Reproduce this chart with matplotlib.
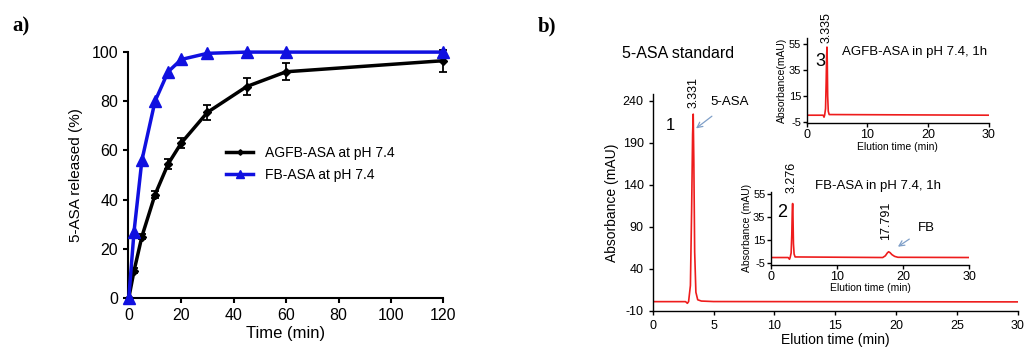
import numpy as np
import matplotlib
matplotlib.use('Agg')
import matplotlib.pyplot as plt

plt.rcParams['font.family'] = ['Liberation Sans', 'DejaVu Sans']
plt.rcParams['axes.unicode_minus'] = False

# a) release profile
time_min = [0, 2, 5, 10, 15, 20, 30, 45, 60, 120]
agfb_rel = [0, 11, 25, 42, 54.5, 63, 75.5, 86, 92, 96.5]
agfb_err = [0, 1, 1, 1.5, 2, 2, 3, 3.5, 3.5, 4.5]
fb_rel = [0, 27, 56, 80, 92, 97, 99.5, 100, 100, 100]

# b) HPLC traces (time min, absorbance mAU)
std_t = [0, 2.7, 2.85, 2.95, 3.1, 3.2, 3.28, 3.331, 3.38, 3.45, 3.55, 3.7, 4.0, 5, 30]
std_a = [0.8, 0.8, -1.2, 0.8, 20, 110, 200, 224, 170, 60, 12, 3, 1.5, 0.9, 0.5]
fb_t = [0, 2.6, 2.8, 2.9, 3.05, 3.15, 3.22, 3.276, 3.33, 3.4, 3.5, 3.65,
        16.9, 17.3, 17.6, 17.791, 18.0, 18.3, 18.7, 19.2, 30]
fb_a = [0, 0, -1.5, 0, 4, 20, 40, 47, 36, 12, 3, 0.5,
        0, 1.5, 4, 5, 4.3, 2.5, 1, 0.2, 0]
agfb_t = [0, 2.7, 2.85, 2.95, 3.1, 3.2, 3.28, 3.335, 3.39, 3.45, 3.55, 3.7, 30]
agfb_a = [0, 0, -1.5, 0, 5, 25, 46, 52.5, 40, 15, 3, 0.5, 0]

fig = plt.figure(figsize=(10.24, 3.52), dpi=100)

def style(ax, lw=1.0):
    for s in ['top', 'right']:
        ax.spines[s].set_visible(False)
    for s in ['left', 'bottom']:
        ax.spines[s].set_linewidth(lw)
    ax.tick_params(direction='out', width=lw)

# ---- panel a
ax = fig.add_axes([0.125, 0.1534, 0.308, 0.6986])
style(ax, 1.5)
ax.errorbar(time_min, agfb_rel, yerr=agfb_err, fmt='none', ecolor='black',
            capsize=3, elinewidth=1.3, capthick=1.3, clip_on=False, zorder=3)
ax.plot(time_min, agfb_rel, color='black', lw=2.5, marker='D', ms=4,
        clip_on=False, zorder=3, label='AGFB-ASA at pH 7.4')
ax.plot(time_min, fb_rel, color='#1010e0', lw=2.5, marker='^', ms=8,
        clip_on=False, zorder=4, label='FB-ASA at pH 7.4')
ax.set_xlim(-0.3, 120)
ax.set_ylim(0, 100)
ax.set_xticks([0, 20, 40, 60, 80, 100, 120])
ax.set_yticks([0, 20, 40, 60, 80, 100])
ax.tick_params(labelsize=11.5)
ax.set_xlabel('Time (min)', fontsize=12, labelpad=2)
ax.set_ylabel('5-ASA released (%)', fontsize=11, labelpad=6)
ax.legend(loc='upper left', bbox_to_anchor=(0.27, 0.67), frameon=False, fontsize=10,
          handlelength=2.0, handletextpad=0.8, labelspacing=0.6, markerscale=0.7)

fig.text(0.012, 0.925, 'a)', family='Liberation Serif', weight='bold', fontsize=15, va='center')
fig.text(0.525, 0.925, 'b)', family='Liberation Serif', weight='bold', fontsize=15, va='center')

# ---- panel b main
red = '#ee1c1c'
arrow_c = '#7f9fc8'
bx = fig.add_axes([0.6374, 0.1173, 0.3564, 0.6158])
style(bx, 1.0)
bx.plot(std_t, std_a, color=red, lw=1.2)
bx.set_xlim(0, 30)
bx.set_ylim(-10, 248)
bx.set_xticks([0, 5, 10, 15, 20, 25, 30])
bx.set_yticks([-10, 40, 90, 140, 190, 240])
bx.tick_params(labelsize=9, length=3)
bx.set_xlabel('Elution time (min)', fontsize=10, labelpad=1)
bx.set_ylabel('Absorbance (mAU)', fontsize=10, labelpad=3)
bx.text(3.331, 231, '3.331', rotation=90, ha='center', va='bottom', fontsize=9)
bx.text(1.42, 210, '1', ha='center', va='center', fontsize=12)
bx.annotate('5-ASA', xy=(3.56, 207), xytext=(6.35, 238), ha='center', va='center',
            fontsize=9.5, arrowprops=dict(arrowstyle='->', color=arrow_c, lw=0.9,
                                          shrinkA=6, shrinkB=0))
fig.text(0.607, 0.8466, '5-ASA standard', fontsize=11.5, va='center')

# ---- inset 3 (AGFB-ASA)
i3 = fig.add_axes([0.7878, 0.6506, 0.178, 0.2415])
i3.set_facecolor('none')
style(i3, 1.0)
i3.plot(agfb_t, agfb_a, color=red, lw=1.2)
i3.set_xlim(0, 30)
i3.set_ylim(-6, 59.5)
i3.set_xticks([0, 10, 20, 30])
i3.set_yticks([-5, 15, 35, 55])
i3.tick_params(axis='x', labelsize=9, length=3, pad=1)
i3.tick_params(axis='y', labelsize=8, length=3, pad=1)
i3.set_xlabel('Elution time (min)', fontsize=7.5, labelpad=1)
i3.set_ylabel('Absorbance(mAU)', fontsize=7.5, labelpad=1)
i3.text(3.3, 55.5, '3.335', rotation=90, ha='center', va='bottom', fontsize=9, clip_on=False)
i3.text(2.2, 41.4, '3', ha='center', va='center', fontsize=13)
i3.text(5.76, 48.6, 'AGFB-ASA in pH 7.4, 1h', ha='left', va='center', fontsize=9.5)

# ---- inset 2 (FB-ASA)
i2 = fig.add_axes([0.7529, 0.2472, 0.1937, 0.2082])
i2.set_facecolor('none')
style(i2, 1.0)
i2.plot(fb_t, fb_a, color=red, lw=1.2)
i2.set_xlim(0, 30)
i2.set_ylim(-6.5, 57.3)
i2.set_xticks([0, 10, 20, 30])
i2.set_yticks([-5, 15, 35, 55])
i2.tick_params(axis='x', labelsize=9, length=3, pad=1)
i2.tick_params(axis='y', labelsize=8, length=3, pad=1)
i2.set_xlabel('Elution time (min)', fontsize=7.5, labelpad=0)
i2.set_ylabel('Absorbance (mAU)', fontsize=7.5, labelpad=1)
i2.text(3.18, 56, '3.276', rotation=90, ha='center', va='bottom', fontsize=9, clip_on=False)
i2.text(1.66, 39.6, '2', ha='center', va='center', fontsize=13)
i2.text(6.7, 62.5, 'FB-ASA in pH 7.4, 1h', ha='left', va='center', fontsize=9.5, clip_on=False)
i2.text(17.35, 15, '17.791', rotation=90, ha='center', va='bottom', fontsize=9)
i2.annotate('FB', xy=(19.2, 9.4), xytext=(23.5, 26), ha='center', va='center',
            fontsize=9.5, arrowprops=dict(arrowstyle='->', color=arrow_c, lw=0.9,
                                          shrinkA=5, shrinkB=0))

fig.savefig('out.png', dpi=100)
